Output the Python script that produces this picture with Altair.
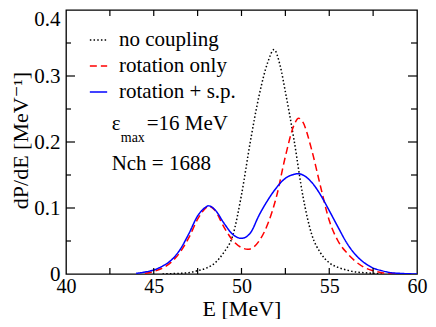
import altair as alt
import pandas as pd

# ---- data ----
series_order = ["no coupling", "rotation only", "rotation + s.p."]

E_nc = [45.5, 46.0, 46.5, 47.0, 47.5, 48.0, 48.5, 49.0, 49.5, 50.0, 50.5, 51.0, 51.5, 51.85,
        52.2, 52.5, 53.0, 53.5, 54.0, 54.5, 55.0, 55.5, 56.0, 56.5, 57.0, 57.5, 58.0]
P_nc = [0.000, 0.0005, 0.001, 0.002, 0.005, 0.009, 0.017, 0.033, 0.058, 0.120, 0.200, 0.270, 0.321, 0.340,
        0.316, 0.276, 0.202, 0.118, 0.060, 0.032, 0.017, 0.010, 0.006, 0.003, 0.002, 0.001, 0.000]

E_rot = [44.5, 45.0, 45.5, 46.0, 46.5, 47.0, 47.5, 48.0, 48.1, 48.5, 49.0, 49.5, 50.0, 50.35, 50.5,
         51.0, 51.5, 52.0, 52.5, 53.0, 53.25, 53.5, 54.0, 54.5, 55.0, 55.5, 56.0, 56.5, 57.0,
         57.5, 58.0, 58.5, 59.0]
P_rot = [0.001, 0.004, 0.009, 0.018, 0.033, 0.055, 0.083, 0.101, 0.103, 0.096, 0.071, 0.051, 0.040, 0.0375, 0.038,
         0.050, 0.076, 0.118, 0.178, 0.226, 0.236, 0.230, 0.188, 0.133, 0.081, 0.050, 0.032, 0.019, 0.010,
         0.005, 0.002, 0.001, 0.000]

E_sp = [44.0, 44.5, 45.0, 45.5, 46.0, 46.5, 47.0, 47.5, 48.0, 48.1, 48.5, 49.0, 49.5, 50.0, 50.5,
        51.0, 51.5, 52.0, 52.5, 53.0, 53.25, 53.5, 54.0, 54.5, 55.0, 55.5, 56.0, 56.5, 57.0,
        57.5, 58.0, 58.5, 59.0, 60.0]
P_sp = [0.001, 0.003, 0.006, 0.012, 0.021, 0.037, 0.061, 0.088, 0.102, 0.1035, 0.097, 0.077, 0.060, 0.054, 0.062,
        0.089, 0.112, 0.131, 0.145, 0.151, 0.152, 0.150, 0.139, 0.120, 0.096, 0.071, 0.047, 0.029, 0.017,
        0.009, 0.005, 0.002, 0.001, 0.000]

x_ticks = [42.5, 45, 47.5, 50, 52.5, 55, 57.5]
y_major = [0.1, 0.2, 0.3]
y_minor = [0.05, 0.15, 0.25, 0.35]
x_labels = [40, 45, 50, 55, 60]
y_labels = [0, 0.1, 0.2, 0.3, 0.4]

rows = []
for name, es, ps in [(series_order[0], E_nc, P_nc), (series_order[1], E_rot, P_rot), (series_order[2], E_sp, P_sp)]:
    for e, p in zip(es, ps):
        rows.append({"E": e, "P": p, "series": name})
df = pd.DataFrame(rows)

W, H = 351, 264
FONT = "Liberation Serif, Times New Roman, DejaVu Serif, serif"

x_scale = alt.Scale(domain=[40, 60], nice=False, zero=False)
y_scale = alt.Scale(domain=[0, 0.4], nice=False)

x_axis = alt.Axis(values=x_labels, format="d", title="E [MeV]", labelPadding=2.5, labelFlush=False,
                  labelFontSize=20, titleY=41, titleBaseline="alphabetic")
y_axis = alt.Axis(values=y_labels, title="dP/dE [MeV⁻¹]",
                  labelExpr="datum.value == 0 ? '0' : format(datum.value, '.1f')",
                  labelPadding=6, labelFlush=False, titleAngle=270, titleX=-39, titleY=130,
                  titleAlign="center", titleBaseline="alphabetic",
                  labelBaseline={"condition": {"test": "datum.value > 0.39", "value": "top"}, "value": "middle"},
                  labelOffset={"condition": {"test": "datum.value > 0.39", "value": -2}, "value": 0})

legend = alt.Legend(title=None, orient="none", legendX=22, legendY=19.5, symbolType="stroke",
                    symbolSize=300, symbolStrokeWidth=1.5, labelFont=FONT, labelFontSize=21,
                    labelColor="black", labelOffset=10, rowPadding=4, padding=0)

lines = alt.Chart(df).mark_line(strokeWidth=1.5, interpolate="monotone", clip=True).encode(
    x=alt.X("E:Q", scale=x_scale, axis=x_axis),
    y=alt.Y("P:Q", scale=y_scale, axis=y_axis),
    color=alt.Color("series:N", scale=alt.Scale(domain=series_order, range=["black", "#ff0000", "#0000ff"]),
                    legend=legend),
    strokeDash=alt.StrokeDash("series:N", scale=alt.Scale(domain=series_order, range=[[1.5, 2.2], [7, 4], [1, 0]]),
                              legend=legend),
)

xt = pd.DataFrame({"E": x_ticks})
tick_bottom = alt.Chart(xt).mark_rule(color="black", strokeWidth=1.2).encode(
    x=alt.X("E:Q", scale=x_scale, axis=x_axis), y=alt.value(H), y2=alt.value(H - 6))
tick_top = alt.Chart(xt).mark_rule(color="black", strokeWidth=1.2).encode(
    x=alt.X("E:Q", scale=x_scale, axis=x_axis), y=alt.value(0), y2=alt.value(6))

ymaj = pd.DataFrame({"P": y_major})
ymin = pd.DataFrame({"P": y_minor})
tick_lmaj = alt.Chart(ymaj).mark_rule(color="black", strokeWidth=1.2).encode(
    y=alt.Y("P:Q", scale=y_scale, axis=y_axis), x=alt.value(0), x2=alt.value(9))
tick_rmaj = alt.Chart(ymaj).mark_rule(color="black", strokeWidth=1.2).encode(
    y=alt.Y("P:Q", scale=y_scale, axis=y_axis), x=alt.value(W), x2=alt.value(W - 9))
tick_lmin = alt.Chart(ymin).mark_rule(color="black", strokeWidth=1.2).encode(
    y=alt.Y("P:Q", scale=y_scale, axis=y_axis), x=alt.value(0), x2=alt.value(5))
tick_rmin = alt.Chart(ymin).mark_rule(color="black", strokeWidth=1.2).encode(
    y=alt.Y("P:Q", scale=y_scale, axis=y_axis), x=alt.value(W), x2=alt.value(W - 6))

ann_big = pd.DataFrame({"E": [42.6, 44.6, 42.6], "P": [0.2175, 0.2175, 0.1575],
                        "t": ["ε", "=16 MeV", "Nch = 1688"]})
ann_sub = pd.DataFrame({"E": [43.12], "P": [0.2001], "t": ["max"]})

text_big = alt.Chart(ann_big).mark_text(font=FONT, fontSize=21, align="left", baseline="alphabetic",
                                        color="black").encode(
    x=alt.X("E:Q", scale=x_scale, axis=x_axis), y=alt.Y("P:Q", scale=y_scale, axis=y_axis), text="t:N")
text_sub = alt.Chart(ann_sub).mark_text(font=FONT, fontSize=14, align="left", baseline="alphabetic",
                                        color="black").encode(
    x=alt.X("E:Q", scale=x_scale, axis=x_axis), y=alt.Y("P:Q", scale=y_scale, axis=y_axis), text="t:N")

chart = alt.layer(lines, tick_bottom, tick_top, tick_lmaj, tick_rmaj, tick_lmin, tick_rmin,
                  text_big, text_sub).properties(
    width=W, height=H, autosize="none", background="white",
    padding={"left": 58, "top": 2, "right": 11, "bottom": 45},
).configure_view(stroke="black", strokeWidth=1.3).configure_axis(
    grid=False, domain=False, ticks=False, labelFont=FONT, labelFontSize=21, labelColor="black",
    titleFont=FONT, titleFontSize=22, titleColor="black", titleFontWeight="normal"
)

chart.save("out.html", embed_options={"renderer": "svg", "actions": False})
